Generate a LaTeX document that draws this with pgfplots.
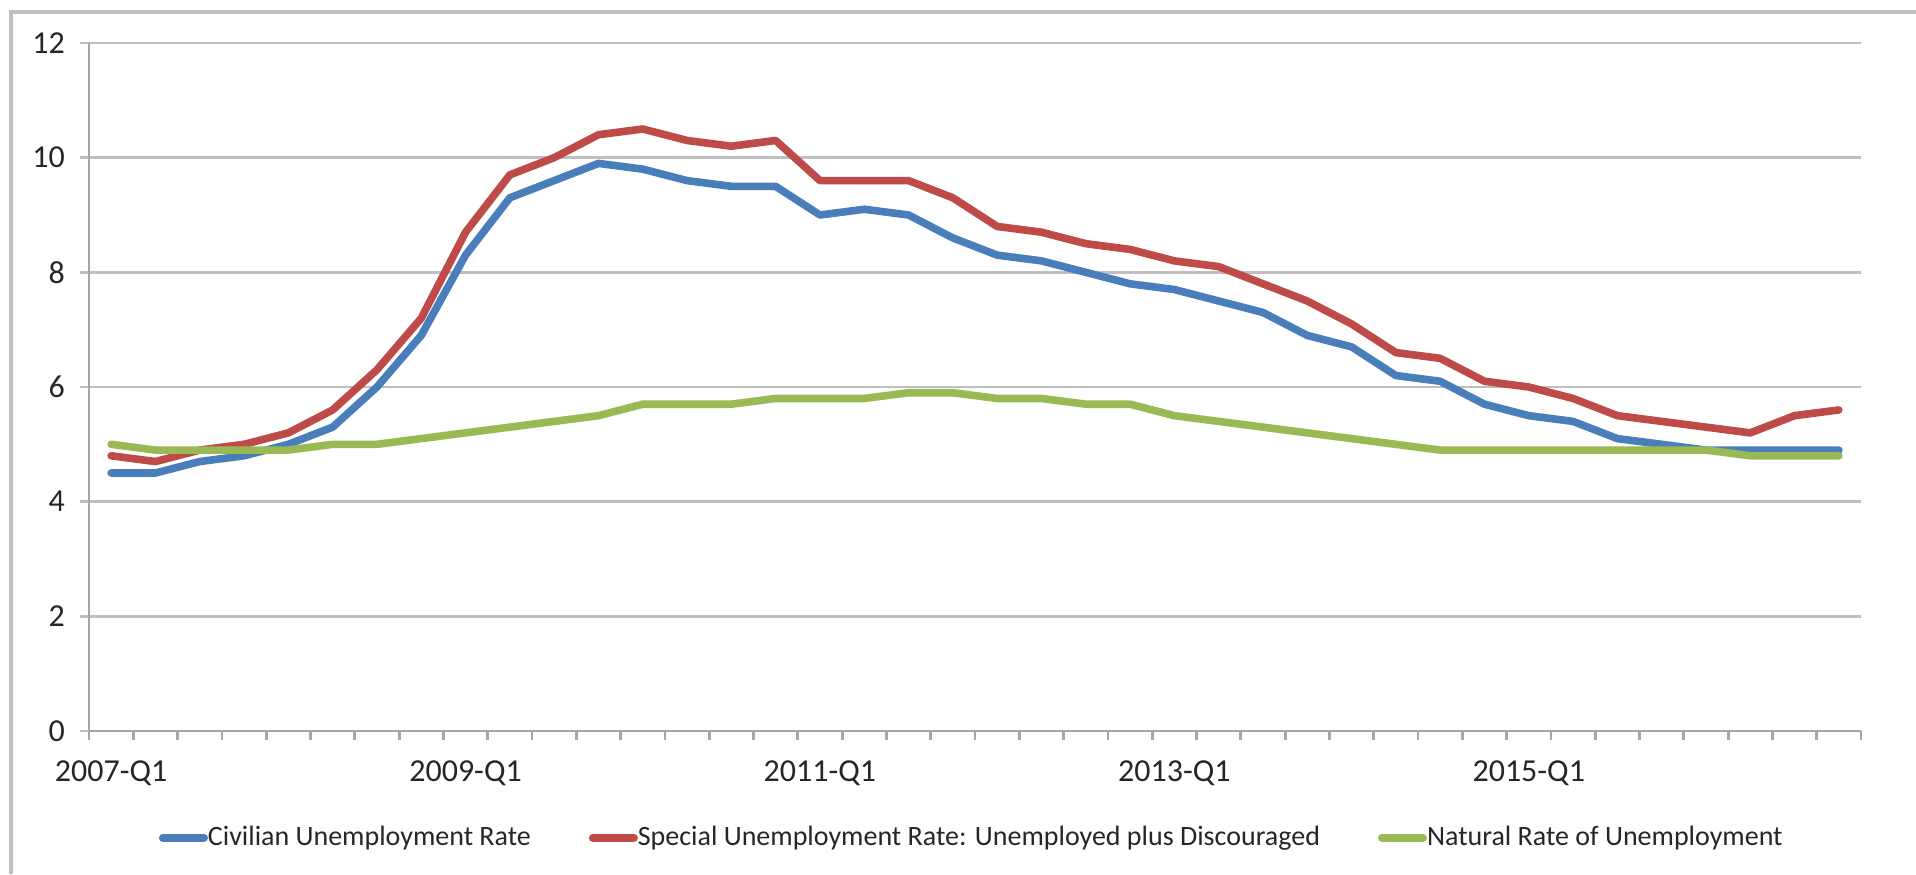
\documentclass[border=0pt]{standalone}
\usepackage{fontspec}
\setmainfont{Carlito}
\usepackage{pgfplots}
\usepackage{pgfplotstable}
\pgfplotsset{compat=1.18}
\definecolor{cblue}{HTML}{4A7EBB}
\definecolor{cred}{HTML}{BE4B48}
\definecolor{cgreen}{HTML}{98B954}
\definecolor{gridgray}{HTML}{BFBFBF}
\definecolor{axgray}{HTML}{A6A6A6}
\definecolor{txt}{HTML}{262626}
\pgfplotstableread{
i blue red green
0 4.5 4.8 5.0
1 4.5 4.7 4.9
2 4.7 4.9 4.9
3 4.8 5.0 4.9
4 5.0 5.2 4.9
5 5.3 5.6 5.0
6 6.0 6.3 5.0
7 6.9 7.2 5.1
8 8.3 8.7 5.2
9 9.3 9.7 5.3
10 9.6 10.0 5.4
11 9.9 10.4 5.5
12 9.8 10.5 5.7
13 9.6 10.3 5.7
14 9.5 10.2 5.7
15 9.5 10.3 5.8
16 9.0 9.6 5.8
17 9.1 9.6 5.8
18 9.0 9.6 5.9
19 8.6 9.3 5.9
20 8.3 8.8 5.8
21 8.2 8.7 5.8
22 8.0 8.5 5.7
23 7.8 8.4 5.7
24 7.7 8.2 5.5
25 7.5 8.1 5.4
26 7.3 7.8 5.3
27 6.9 7.5 5.2
28 6.7 7.1 5.1
29 6.2 6.6 5.0
30 6.1 6.5 4.9
31 5.7 6.1 4.9
32 5.5 6.0 4.9
33 5.4 5.8 4.9
34 5.1 5.5 4.9
35 5.0 5.4 4.9
36 4.9 5.3 4.9
37 4.9 5.2 4.8
38 4.9 5.5 4.8
39 4.9 5.6 4.8
}\datatable
\begin{document}
\begin{tikzpicture}[x=1pt,y=1pt]
\useasboundingbox (0,0) rectangle (958,437);
\draw[gridgray, line width=1.6pt] (5.5,0) -- (5.5,431) -- (958,431);
\begin{axis}[
  at={(44.5pt,71.5pt)}, anchor=south west,
  scale only axis, width=886pt, height=344pt,
  xmin=-0.5, xmax=39.5, ymin=0, ymax=12,
  axis x line=bottom, axis y line=left,
  axis line style={-, axgray, line width=1.4pt},
  xtick={0,8,16,24,32},
  xticklabels={2007-Q1,2009-Q1,2011-Q1,2013-Q1,2015-Q1},
  minor xtick={-0.5,0.5,...,39.5},
  ytick={0,2,...,12},
  tick align=outside,
  xtick style={draw=none},
  minor x tick style={draw=axgray, line width=1.4pt},
  minor tick length=4.5pt,
  ytick style={draw=gridgray, line width=1.4pt},
  major tick length=4.5pt,
  ymajorgrids,
  grid style={gridgray, line width=1.4pt},
  tick label style={font=\fontsize{16}{19}\selectfont, text=txt},
  /pgf/number format/assume math mode=true,
  xticklabel style={yshift=-7pt},
  yticklabel style={xshift=-4pt},
  legend columns=3,
  legend style={at={(0.4976,-0.155)}, anchor=center, draw=none, fill=none,
    font=\fontsize{14}{17}\selectfont, text=txt, inner sep=0pt,
    nodes={inner sep=0pt},
    /tikz/every even column/.append style={column sep=29pt}},
  legend image code/.code={\draw[#1, line width=4pt, line cap=round] (0pt,0pt) -- (20.5pt,0pt);},
  every axis plot/.append style={line width=3.8pt, line join=round, line cap=round},
]
\addplot[cblue] table[x=i, y=blue] {\datatable};
\addlegendentry{Civilian Unemployment Rate}
\addplot[cred] table[x=i, y=red] {\datatable};
\addlegendentry{Special Unemployment Rate: Unemployed plus Discouraged}
\addplot[cgreen] table[x=i, y=green] {\datatable};
\addlegendentry{Natural Rate of Unemployment}
\end{axis}
\end{tikzpicture}
\end{document}
